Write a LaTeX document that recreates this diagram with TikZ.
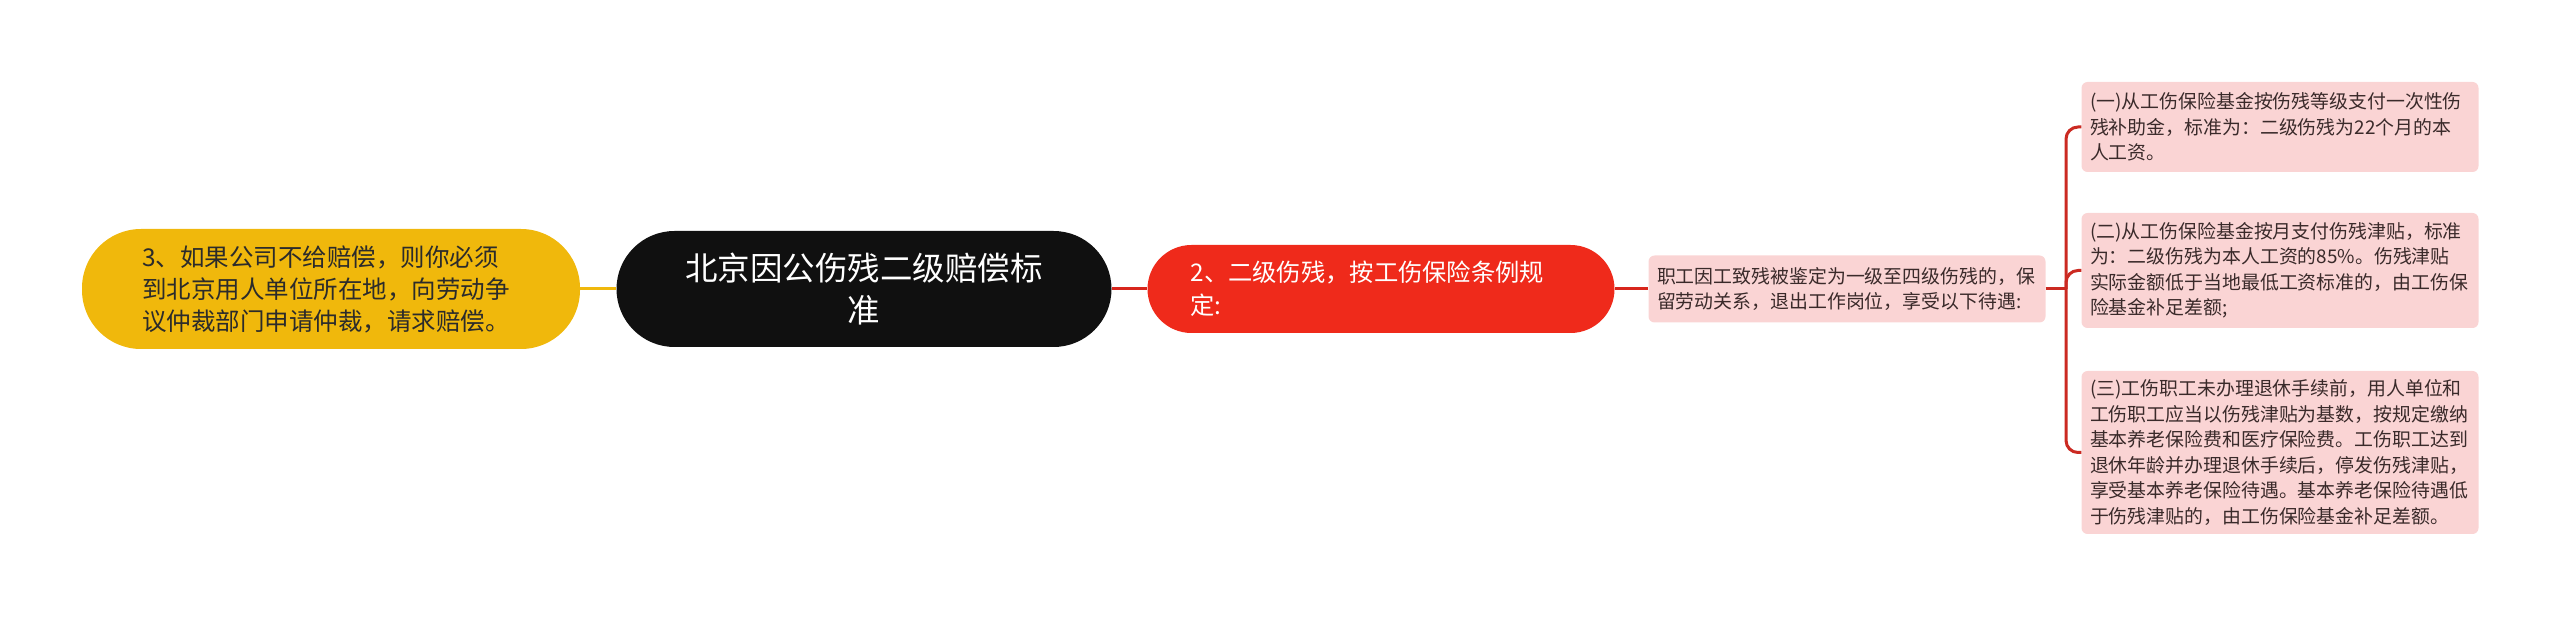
\documentclass[tikz,border=0pt]{standalone}
\usepackage{fontspec}
\setmainfont{Noto Sans CJK SC}
\usepackage{tikz}

\definecolor{mapyellow}{HTML}{F0B80C}
\definecolor{mapblack}{HTML}{101010}
\definecolor{mapred}{HTML}{EF2A1B}
\definecolor{linkred}{HTML}{D8261C}
\definecolor{branchred}{HTML}{CB2A22}
\definecolor{pinkfill}{HTML}{FAD4D4}
\definecolor{pinktext}{HTML}{3A2A2A}
\definecolor{darktext}{HTML}{2B2B2B}

\tikzset{
	rootbox/.style={fill=mapblack, text=white, rounded corners=58pt, minimum height=116pt,
		text width=415pt, inner xsep=40pt, inner ysep=0pt, align=center,
		font=\fontsize{32.5pt}{42pt}\selectfont},
	yellowbox/.style={fill=mapyellow, text=darktext, rounded corners=59pt, minimum height=120pt,
		text width=378pt, inner xsep=60pt, inner ysep=0pt, align=left,
		font=\fontsize{24.5pt}{32pt}\selectfont},
	redbox/.style={fill=mapred, text=white, rounded corners=44pt, minimum height=88pt,
		text width=381pt, inner xsep=43pt, inner ysep=0pt, align=left,
		font=\fontsize{24.3pt}{33pt}\selectfont},
	pinkbox/.style={fill=pinkfill, text=pinktext, rounded corners=6pt,
		text width=380pt, inner xsep=8.5pt, inner ysep=0pt, align=left,
		font=\fontsize{18.9pt}{25.5pt}\selectfont},
	ylink/.style={line width=3pt, color=mapyellow},
	rlink/.style={line width=3pt, color=linkred},
	plink/.style={line width=3pt, color=branchred, rounded corners=12pt},
}

\begin{document}
\begin{tikzpicture}[x=1pt,y=1pt]
			%%%%% START %%%%%
			\useasboundingbox (0,0) rectangle (2560,616);
			
			\node[rootbox] (root) at (864,327) {北京因公伤残二级赔偿标\\准};
			
			\node[yellowbox] (claim) at (331,327) {3、如果公司不给赔偿，则你必须\\到北京用人单位所在地，向劳动争\\议仲裁部门申请仲裁，请求赔偿。};
			
			\node[redbox] (grade) at (1381,327) {2、二级伤残，按工伤保险条例规\\定:};
			
			\node[pinkbox, minimum height=67pt] (treat) at (1847,327) {职工因工致残被鉴定为一级至四级伤残的，保\\留劳动关系，退出工作岗位，享受以下待遇:};
			
			\node[pinkbox, minimum height=90pt] (lump) at (2280,489) {(一)从工伤保险基金按伤残等级支付一次性伤\\残补助金，标准为：二级伤残为22个月的本\\人工资。};
			\node[pinkbox, minimum height=115pt] (monthly) at (2280,345.5) {(二)从工伤保险基金按月支付伤残津贴，标准\\为：二级伤残为本人工资的85\%。伤残津贴\\实际金额低于当地最低工资标准的，由工伤保\\险基金补足差额;};
			\node[pinkbox, minimum height=163pt] (pension) at (2280,163.5) {(三)工伤职工未办理退休手续前，用人单位和\\工伤职工应当以伤残津贴为基数，按规定缴纳\\基本养老保险费和医疗保险费。工伤职工达到\\退休年龄并办理退休手续后，停发伤残津贴，\\享受基本养老保险待遇。基本养老保险待遇低\\于伤残津贴的，由工伤保险基金补足差额。};
			
			% links
			\draw[ylink] (claim) -- (root);
			\draw[rlink] (root) -- (grade);
			\draw[rlink] (grade) -- (treat);
			
			\coordinate (fork) at (2066,327);
			\draw[plink] (treat.east) -- (fork);
			\draw[plink] (fork) |- (lump.west);
			\draw[plink] (fork) |- (monthly.west);
			\draw[plink] (fork) |- (pension.west);
			
			%%%%% END %%%%%
\end{tikzpicture}
\end{document}
